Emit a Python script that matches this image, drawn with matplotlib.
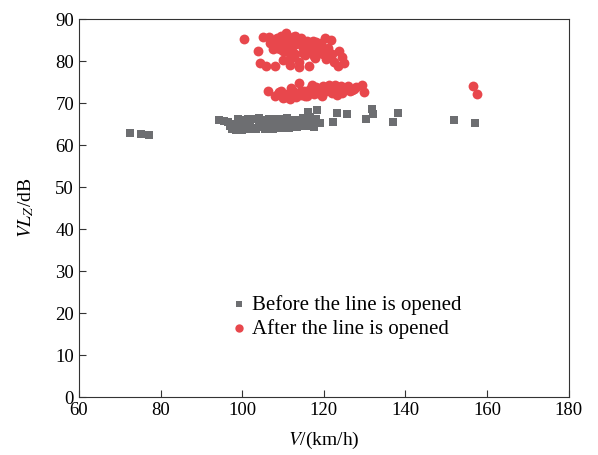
import matplotlib as mpl
mpl.use('Agg')
import matplotlib.pyplot as plt

plt.rcParams['font.family'] = 'Liberation Serif'
plt.rcParams['mathtext.fontset'] = 'stix'

# speed (km/h) and level (dB) before the line opened
beforeSpeed = [72.5, 75.2, 77.1,
               94.2, 95.5, 96.5, 97.0, 97.5, 98.0, 98.5, 99.0, 99.5, 100.0,
               100.5, 101.0, 101.5, 102.0, 102.5, 103.0, 103.5, 104.0, 104.5,
               105.0, 105.5, 106.0, 106.5, 107.0, 107.5, 108.0, 108.5, 109.0,
               109.5, 110.0, 110.5, 111.0, 111.5, 112.0, 112.5, 113.0, 113.5,
               114.0, 114.5, 115.0, 115.5, 116.0, 116.5, 117.0, 117.5, 118.0,
               119.0, 99.0, 101.5, 104.0, 106.5, 109.0, 111.5, 114.0, 116.0,
               116.1, 117.3, 118.3, 119.0, 122.2, 123.2, 125.6, 130.3, 131.8,
               132.0, 136.9, 138.1, 151.8, 157.0]
beforeLevel = [62.9, 62.6, 62.4,
               66.0, 65.8, 65.5, 64.5, 63.8, 65.0, 63.6, 64.5, 65.8, 63.6,
               64.8, 66.0, 63.8, 65.2, 64.2, 66.2, 63.8, 65.0, 64.3,
               66.0, 63.9, 65.5, 64.5, 66.2, 63.9, 65.2, 64.2, 66.3,
               64.0, 65.5, 64.6, 66.5, 64.2, 65.8, 64.5, 66.0, 64.4,
               65.5, 64.8, 66.5, 64.6, 65.8, 66.8, 65.0, 64.4, 66.2,
               65.2, 66.2, 66.3, 66.4, 66.3, 65.0, 65.2, 65.0, 64.9,
               67.9, 64.5, 68.3, 65.2, 65.5, 67.6, 67.4, 66.2, 68.6,
               67.4, 65.5, 67.6, 66.0, 65.3]

# speed (km/h) and level (dB) after the line opened
afterSpeed = [100.5, 103.8, 104.3, 105.1, 105.8, 106.5, 107.5, 108.0, 108.5,
              109.0, 109.5, 110.0, 110.7, 111.2, 111.7, 112.0, 112.5, 113.0,
              113.5, 113.9, 114.5, 115.0, 115.5, 116.0, 116.3, 116.8, 117.3,
              117.8, 118.3, 118.8, 119.3, 120.2, 120.6, 121.0, 121.7, 122.0,
              122.5, 123.4, 123.7, 124.4, 124.9, 107.0, 108.3, 109.8, 111.0,
              112.3, 113.6, 114.8, 116.0, 117.5, 118.5, 119.8, 121.0, 110.0,
              112.0, 114.0, 108.0, 110.5, 113.2, 115.8, 118.0, 109.3, 111.8,
              106.8, 108.6, 111.2, 113.0, 115.0, 117.0, 119.0,
              106.3, 108.0, 109.0, 110.0, 111.0, 111.7, 112.5, 113.2, 113.9,
              114.5, 115.2, 116.0, 116.7, 117.5, 118.2, 119.0, 119.8, 120.5,
              121.3, 122.0, 122.8, 123.5, 124.3, 125.0, 126.0, 127.0, 128.0,
              129.3, 129.8, 109.5, 112.0, 114.5, 117.0, 119.5, 122.0, 124.5,
              126.5, 110.5, 113.0, 115.5, 118.0, 120.8, 123.2, 108.8, 110.8,
              112.8, 114.0, 116.2, 118.6, 121.6, 124.0, 125.8, 127.5,
              156.5, 157.5]
afterLevel = [85.3, 82.4, 79.5, 85.7, 78.8, 85.8, 82.8, 78.8, 85.5,
              84.0, 86.0, 82.5, 86.7, 84.5, 79.0, 83.0, 85.8, 81.8,
              84.8, 78.5, 85.6, 83.5, 81.5, 84.8, 78.8, 82.6, 84.8,
              80.8, 83.8, 82.0, 84.2, 85.5, 80.5, 83.2, 85.0, 81.8,
              79.8, 78.8, 82.4, 81.0, 79.5, 84.5, 85.0, 83.5, 85.5,
              82.5, 85.2, 82.0, 83.5, 81.2, 83.0, 81.8, 82.5, 80.2,
              80.8, 79.8, 84.0, 84.8, 84.0, 84.2, 84.5, 83.0, 83.8,
              84.2, 83.2, 82.2, 86.0, 83.2, 82.8, 83.5,
              72.9, 71.8, 72.6, 71.3, 72.2, 70.9, 72.8, 71.5, 74.8,
              72.0, 73.0, 71.7, 73.3, 72.2, 73.8, 72.6, 74.0, 73.0,
              74.2, 73.2, 74.3, 73.5, 74.0, 73.3, 74.0, 73.2, 73.8,
              74.3, 72.6, 73.0, 73.6, 72.8, 74.2, 71.8, 72.5, 72.4,
              73.0, 71.5, 72.3, 71.6, 72.8, 73.2, 72.0, 72.2, 72.0,
              71.8, 72.4, 72.9, 72.5, 73.6, 73.8, 73.6, 73.4,
              74.0, 72.1]

xTicks = [60, 80, 100, 120, 140, 160, 180]
yTicks = [0, 10, 20, 30, 40, 50, 60, 70, 80, 90]

fig = plt.figure(figsize=(5.98, 4.55), dpi=100)
ax = fig.add_axes([0.132, 0.127, 0.819, 0.831])

ax.scatter(beforeSpeed, beforeLevel, marker='s', s=34, color='#6d6e71',
           linewidths=0, label='Before the line is opened', zorder=2)
ax.scatter(afterSpeed, afterLevel, marker='o', s=50, color='#e8474c',
           linewidths=0, label='After the line is opened', zorder=3)

ax.set_xlim(60, 180)
ax.set_ylim(0, 90)
ax.set_xticks(xTicks)
ax.set_yticks(yTicks)
ax.tick_params(direction='in', length=5, labelsize=13.5, color='#333333')
for s in ax.spines.values():
    s.set_color('#333333')

ax.set_xlabel(r'$V$/(km/h)', fontsize=14, labelpad=8)
ax.set_ylabel(r'$VL_Z$/dB', fontsize=14, labelpad=14)

ax.legend(loc='upper left', bbox_to_anchor=(0.265, 0.32), frameon=False,
          fontsize=15, handletextpad=0.1, labelspacing=0.2,
          markerscale=0.85, handlelength=1.1)

plt.savefig('out.png', dpi=100)
